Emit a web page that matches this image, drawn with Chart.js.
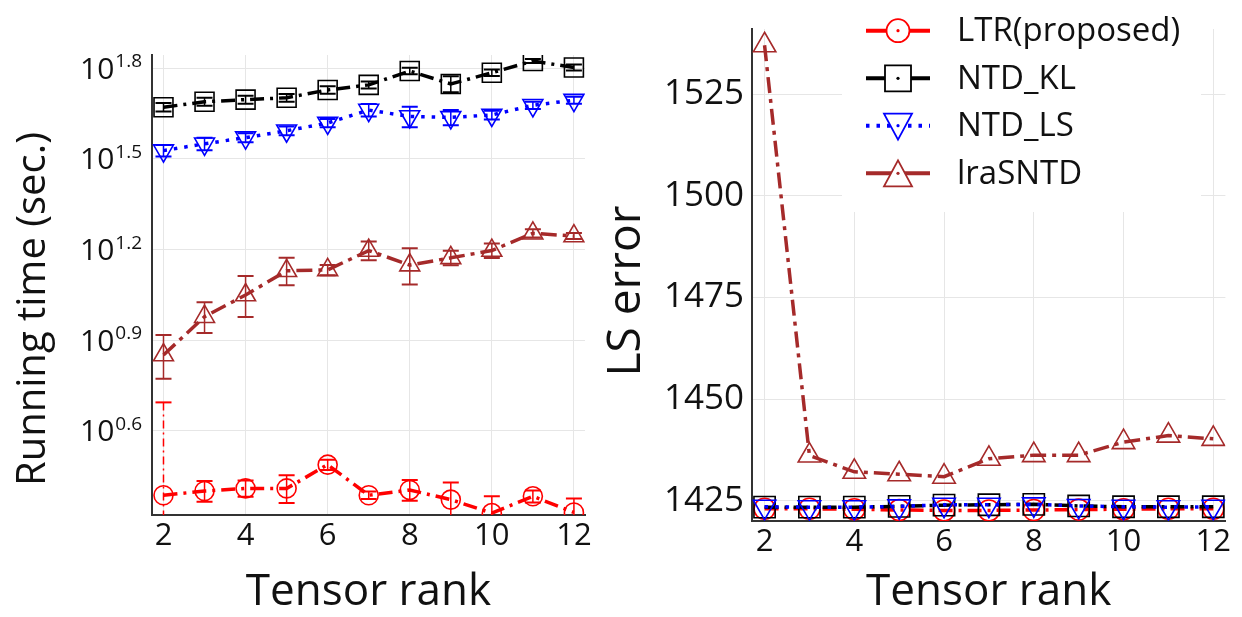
<!DOCTYPE html>
<html>
<head>
<meta charset="utf-8">
<script src="https://cdn.jsdelivr.net/npm/chart.js@4.4.0/dist/chart.umd.min.js"></script>
<style>
  body { margin: 0; background: #fff; width: 1242px; height: 617px; overflow: hidden; position: relative; }
  #leftBox { position: absolute; left: 0; top: 0; width: 600px; height: 617px; }
  #rightBox { position: absolute; left: 600px; top: 0; width: 642px; height: 617px; }
</style>
</head>
<body>
<div id="leftBox"><canvas id="timeChart" width="600" height="617"></canvas></div>
<div id="rightBox"><canvas id="errorChart" width="642" height="617"></canvas></div>
<script>
const ranks = [2, 3, 4, 5, 6, 7, 8, 9, 10, 11, 12];
const rankTicks = [2, 4, 6, 8, 10, 12];
const timeTickPowers = [0.6, 0.9, 1.2, 1.5, 1.8];
const errorTicks = [1425, 1450, 1475, 1500, 1525];
const seriesNames = ['LTR(proposed)', 'NTD_KL', 'NTD_LS', 'lraSNTD'];

// running time in seconds (log axis) and its spread
const timeLTR = [2.44, 2.52, 2.57, 2.57, 3.08, 2.44, 2.54, 2.36, 2.13, 2.42, 2.14];
const timeLTRErr = [2.51, 0.20, 0.16, 0.27, 0.12, 0.07, 0.20, 0.33, 0.29, 0.11, 0.24];
const timeKL = [46.9, 48.9, 49.7, 50.4, 53.5, 55.6, 61.8, 56.0, 61.0, 66.7, 63.5];
const timeKLErr = [1.5, 1.5, 1.5, 1.5, 1.5, 1.5, 1.5, 3.4, 1.5, 1.0, 1.5];
const timeLS = [33.7, 35.5, 37.2, 39.2, 41.6, 45.9, 43.7, 43.4, 44.2, 47.6, 49.5];
const timeLSErr = [1.5, 1.7, 1.3, 1.3, 1.3, 2.2, 3.4, 2.5, 1.5, 1.3, 1.3];
const timeLra = [7.10, 9.51, 11.22, 13.49, 13.58, 15.74, 14.09, 14.89, 15.74, 17.95, 17.58];
const timeLraErr = [1.17, 1.11, 1.74, 1.40, 0.53, 1.12, 1.94, 0.82, 0.87, 0.55, 0.40];

// LS error
const errLTR = [1423.0, 1423.0, 1422.9, 1422.7, 1422.6, 1422.6, 1422.7, 1422.8, 1422.9, 1423.0, 1423.0];
const errKL = [1423.4, 1423.4, 1423.4, 1423.6, 1423.9, 1424.0, 1424.1, 1423.7, 1423.5, 1423.5, 1423.5];
const errLS = [1423.5, 1423.4, 1423.4, 1423.6, 1424.0, 1424.0, 1424.1, 1423.7, 1423.5, 1423.4, 1423.5];
const errLra = [1537.0, 1436.1, 1432.1, 1431.5, 1430.9, 1435.3, 1436.2, 1436.2, 1439.4, 1441.0, 1440.2];

const FONT = 'Open Sans';
const styles = [
    { color: '#ff0000', dash: [14, 6, 3, 6], pointStyle: 'circle', rotation: 0 },
    { color: '#000000', dash: [14, 6, 3, 6], pointStyle: 'rect', rotation: 0 },
    { color: '#0000ff', dash: [3.5, 7], pointStyle: 'triangle', rotation: 180 },
    { color: '#a52a2a', dash: [16, 6, 4, 6], pointStyle: 'triangle', rotation: 0 }
];

function makeDataset(i, values, errors, radius) {
    const s = styles[i];
    return {
        label: seriesNames[i],
        data: ranks.map((r, k) => ({ x: r, y: values[k] })),
        errors: errors,
        borderColor: s.color,
        borderWidth: 3.5,
        borderDash: s.dash,
        borderCapStyle: 'butt',
        tension: 0,
        pointStyle: s.pointStyle,
        pointRotation: s.rotation,
        pointRadius: radius[i],
        pointBorderWidth: 1.6,
        pointBorderColor: s.color,
        pointBackgroundColor: 'rgba(0,0,0,0)',
        clip: 0,
        order: 3 - i
    };
}

function rankAxis(height) {
    return {
        type: 'linear',
        min: 1.72,
        max: 12.27,
        afterBuildTicks: (s) => { s.ticks = rankTicks.map(v => ({ value: v })); },
        afterFit: (s) => { s.height = height; },
        grid: { color: '#e6e6e6', lineWidth: 1, drawTicks: false },
        border: { color: '#333', width: 2 },
        ticks: { color: '#111', font: { family: FONT, size: 31 }, padding: 3, maxRotation: 0 },
        title: {
            display: true, text: 'Tensor rank', color: '#111',
            font: { family: FONT, size: 44, lineHeight: 1.1 }, padding: { top: 0, bottom: 0 }
        }
    };
}

// vertical error bars with caps, drawn from each dataset's errors
const errorBarPlugin = {
    id: 'errorBars',
    afterDatasetsDraw(chart) {
        const ctx = chart.ctx;
        const area = chart.chartArea;
        const xs = chart.scales.x;
        const ys = chart.scales.y;
        ctx.save();
        ctx.beginPath();
        ctx.rect(area.left, area.top, area.right - area.left, area.bottom - area.top);
        ctx.clip();
        chart.data.datasets.forEach((ds) => {
            if (!ds.errors) return;
            ds.data.forEach((p, i) => {
                const e = ds.errors[i];
                const x = xs.getPixelForValue(p.x);
                const yTop = ys.getPixelForValue(p.y + e);
                const low = p.y - e;
                const yBot = low > 0 ? ys.getPixelForValue(low) : area.bottom + 5;
                ctx.strokeStyle = ds.borderColor;
                ctx.lineWidth = 1.5;
                ctx.setLineDash(yBot - yTop > 80 ? [8, 4, 2, 4] : []);
                ctx.beginPath();
                ctx.moveTo(x, yTop);
                ctx.lineTo(x, yBot);
                ctx.stroke();
                ctx.setLineDash([]);
                ctx.lineWidth = 2;
                ctx.beginPath();
                ctx.moveTo(x - 8, yTop); ctx.lineTo(x + 8, yTop);
                if (low > 0) { ctx.moveTo(x - 8, yBot); ctx.lineTo(x + 8, yBot); }
                ctx.stroke();
            });
        });
        ctx.restore();
    }
};

// 10^p tick labels for the log axis
const powerTickPlugin = {
    id: 'powerTicks',
    afterDraw(chart) {
        const ctx = chart.ctx;
        const ys = chart.scales.y;
        const right = chart.chartArea.left - 10;
        ctx.save();
        ctx.fillStyle = '#111';
        ctx.textAlign = 'right';
        ctx.textBaseline = 'alphabetic';
        timeTickPowers.forEach((p) => {
            const y = ys.getPixelForValue(Math.pow(10, p));
            const sup = p.toFixed(1);
            ctx.font = '19px "' + FONT + '"';
            const supW = ctx.measureText(sup).width;
            ctx.fillText(sup, right, y - 1);
            ctx.font = '30px "' + FONT + '"';
            ctx.fillText('10', right - supW - 1, y + 10.5);
        });
        ctx.restore();
    }
};

function yTitlePlugin(text, x, y, size) {
    return {
        id: 'yTitle',
        afterDraw(chart) {
            const ctx = chart.ctx;
            ctx.save();
            ctx.translate(x, y);
            ctx.rotate(-Math.PI / 2);
            ctx.font = size + 'px "' + FONT + '"';
            ctx.fillStyle = '#111';
            ctx.textAlign = 'center';
            ctx.textBaseline = 'middle';
            ctx.fillText(text, 0, 0);
            ctx.restore();
        }
    };
}

// legend box in the upper part of the LS error panel
const legendPlugin = {
    id: 'boxLegend',
    afterDraw(chart) {
        const ctx = chart.ctx;
        const rows = [30.7, 78.3, 125.7, 173.3];
        const x0 = 266, x1 = 330, mx = 298, tx = 357;
        ctx.save();
        ctx.fillStyle = '#fff';
        ctx.fillRect(242, 0, 359, 212);
        rows.forEach((y, i) => {
            const s = styles[i];
            ctx.strokeStyle = s.color;
            ctx.lineWidth = 4;
            ctx.setLineDash(i === 2 ? [3.5, 7] : []);
            ctx.beginPath();
            ctx.moveTo(x0, y); ctx.lineTo(x1, y);
            ctx.stroke();
            ctx.setLineDash([]);
            ctx.lineWidth = 1.8;
            ctx.fillStyle = '#fff';
            ctx.beginPath();
            if (i === 0) {
                ctx.arc(mx, y, 11.5, 0, Math.PI * 2);
            } else if (i === 1) {
                ctx.rect(mx - 13, y - 13, 26, 26);
            } else if (i === 2) {
                ctx.moveTo(mx - 14, y - 12); ctx.lineTo(mx + 14, y - 12); ctx.lineTo(mx, y + 14); ctx.closePath();
            } else {
                ctx.moveTo(mx - 14, y + 13); ctx.lineTo(mx + 14, y + 13); ctx.lineTo(mx, y - 13); ctx.closePath();
            }
            ctx.fill();
            ctx.stroke();
            ctx.fillStyle = s.color;
            ctx.beginPath();
            ctx.arc(mx, y, 1.6, 0, Math.PI * 2);
            ctx.fill();
            ctx.fillStyle = '#111';
            ctx.font = '33px "' + FONT + '"';
            ctx.textAlign = 'left';
            ctx.textBaseline = 'middle';
            ctx.fillText(seriesNames[i], tx, y + 1);
        });
        ctx.restore();
    }
};

const timeRadius = [9.5, 13.4, 11.5, 11.5];
const errRadius = [10.5, 15, 13, 13];

new Chart(document.getElementById('timeChart').getContext('2d'), {
    type: 'line',
    data: {
        datasets: [
            makeDataset(0, timeLTR, timeLTRErr, timeRadius),
            makeDataset(1, timeKL, timeKLErr, timeRadius),
            makeDataset(2, timeLS, timeLSErr, timeRadius),
            makeDataset(3, timeLra, timeLraErr, timeRadius)
        ]
    },
    options: {
        responsive: false,
        animation: false,
        devicePixelRatio: 1,
        layout: { padding: { top: 55, right: 12, left: 0, bottom: 0 } },
        plugins: { legend: { display: false }, tooltip: { enabled: false } },
        scales: {
            x: rankAxis(102),
            y: {
                type: 'logarithmic',
                min: Math.pow(10, 0.322),
                max: Math.pow(10, 1.844),
                afterBuildTicks: (s) => { s.ticks = timeTickPowers.map(p => ({ value: Math.pow(10, p) })); },
                afterFit: (s) => { s.width = 152; },
                grid: { color: '#e6e6e6', lineWidth: 1, drawTicks: false },
                border: { color: '#333', width: 2 },
                ticks: { display: false }
            }
        }
    },
    plugins: [errorBarPlugin, powerTickPlugin, yTitlePlugin('Running time (sec.)', 34, 309, 40)]
});

new Chart(document.getElementById('errorChart').getContext('2d'), {
    type: 'line',
    data: {
        datasets: [
            makeDataset(0, errLTR, null, errRadius),
            makeDataset(1, errKL, null, errRadius),
            makeDataset(2, errLS, null, errRadius),
            makeDataset(3, errLra, null, errRadius)
        ]
    },
    options: {
        responsive: false,
        animation: false,
        devicePixelRatio: 1,
        layout: { padding: { top: 12, right: 10, left: 0, bottom: 0 } },
        plugins: { legend: { display: false }, tooltip: { enabled: false } },
        scales: {
            x: rankAxis(96),
            y: {
                type: 'linear',
                min: 1420,
                max: 1541,
                afterBuildTicks: (s) => { s.ticks = errorTicks.map(v => ({ value: v })); },
                afterFit: (s) => { s.width = 152; },
                grid: { color: '#e6e6e6', lineWidth: 1, drawTicks: false },
                border: { color: '#333', width: 2 },
                ticks: { color: '#111', font: { family: FONT, size: 35 }, padding: 8, callback: (v) => String(v) }
            }
        }
    },
    plugins: [legendPlugin, yTitlePlugin('LS error', 27, 291, 46)]
});
</script>
</body>
</html>
